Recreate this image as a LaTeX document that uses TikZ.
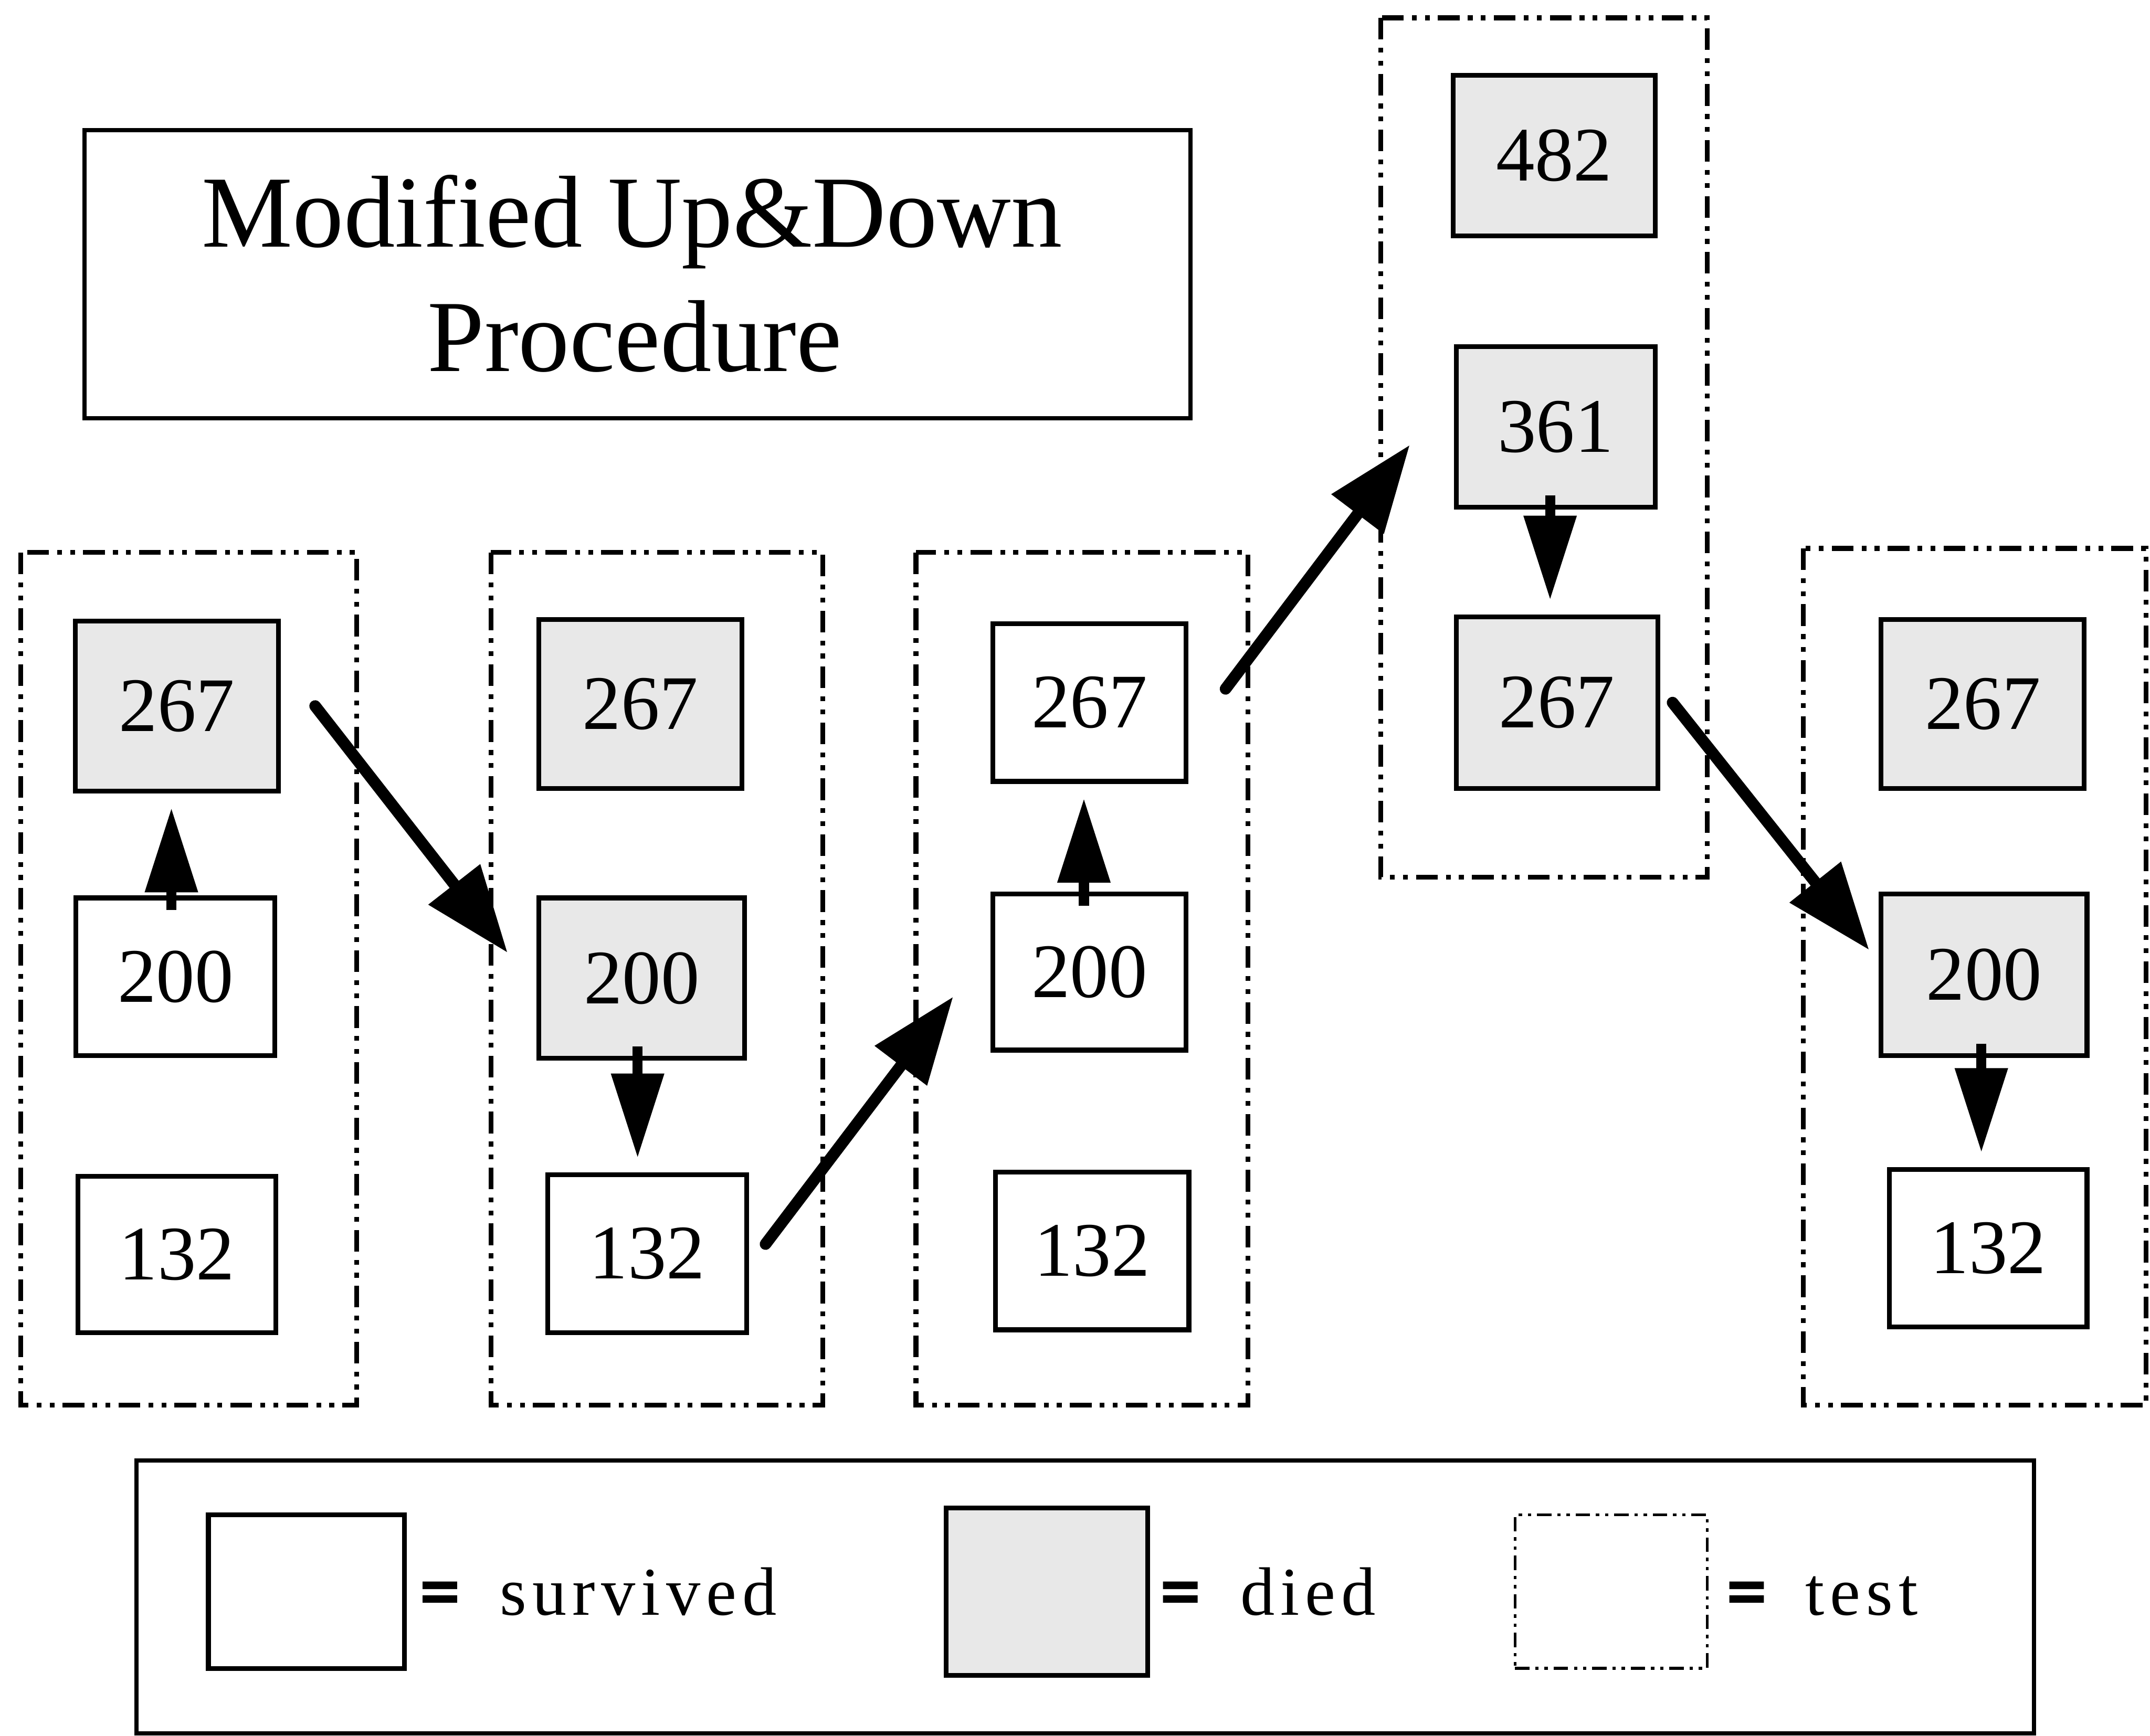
\documentclass[tikz,border=0pt]{standalone}
\usepackage{fontspec}
\setmainfont{Liberation Serif}
\newfontfamily\legendfont[LetterSpace=8.5]{Liberation Serif}
\newfontfamily\eqfont[FakeBold=4]{Liberation Serif Bold}
\usetikzlibrary{arrows.meta,calc}

\tikzset{
  cell/.style={draw=black, line width=1pt, inner sep=0pt,
    font=\fontsize{16pt}{19pt}\selectfont},
  alive/.style={cell, fill=white},
  dead/.style={cell, fill=black!9},
  testbox/.style={draw=black, line width=1pt,
    dash pattern=on 4.5pt off 1.7pt on 1pt off 1.7pt on 1pt off 1.7pt},
  jump/.style={line width=2.4pt, line cap=round,
    -{Triangle[length=18pt,width=13pt]}},
  within/.style={line width=2.1pt, shorten >=3pt, shorten <=-3pt,
    -{Triangle[length=17.5pt,width=10.5pt]}},
  titletext/.style={font=\fontsize{21.2pt}{26pt}\selectfont, inner sep=0pt, anchor=base},
  eqsign/.style={font=\fontsize{14.2pt}{17pt}\eqfont, inner sep=0pt, anchor=base west},
  legtext/.style={font=\fontsize{14.2pt}{17pt}\legendfont, inner sep=0pt, anchor=base west},
}

\begin{document}
\begin{tikzpicture}[x=0.01cm, y=-0.01cm]
\useasboundingbox (0,0) rectangle (1568,1266);

% title
\node[draw, line width=0.9pt, minimum width=8.06cm, minimum height=2.10cm] (title) at (465,200) {};
\node[titletext] (t1) at (461,180) {Modified Up\&Down};
\node[titletext] (t2) at (463,271) {Procedure};

% test groups
\draw[testbox] (15,403) rectangle (260,1025);
\draw[testbox] (358,403) rectangle (600,1025);
\draw[testbox] (668,403) rectangle (910,1025);
\draw[testbox] (1007,13) rectangle (1245,640);
\draw[testbox] (1315,400) rectangle (1565,1025);

% group 1
\node[dead,  minimum width=1.48cm, minimum height=1.24cm] (a267) at (129,515) {267};
\node[alive, minimum width=1.45cm, minimum height=1.15cm] (a200) at (128,712.5) {200};
\node[alive, minimum width=1.44cm, minimum height=1.14cm] (a132) at (129,915) {132};

% group 2
\node[dead,  minimum width=1.48cm, minimum height=1.23cm] (b267) at (467,513.5) {267};
\node[dead,  minimum width=1.50cm, minimum height=1.17cm] (b200) at (468,713.5) {200};
\node[alive, minimum width=1.45cm, minimum height=1.15cm] (b132) at (472,914.5) {132};

% group 3
\node[alive, minimum width=1.41cm, minimum height=1.15cm] (c267) at (794.5,512.5) {267};
\node[alive, minimum width=1.41cm, minimum height=1.14cm] (c200) at (794.5,709) {200};
\node[alive, minimum width=1.41cm, minimum height=1.15cm] (c132) at (796.5,912.5) {132};

% group 4
\node[dead, minimum width=1.47cm, minimum height=1.17cm] (d482) at (1133.5,113.5) {482};
\node[dead, minimum width=1.45cm, minimum height=1.17cm] (d361) at (1134.5,311.5) {361};
\node[dead, minimum width=1.47cm, minimum height=1.25cm] (d267) at (1135.5,512.5) {267};

% group 5
\node[dead,  minimum width=1.48cm, minimum height=1.23cm] (e267) at (1446,513.5) {267};
\node[dead,  minimum width=1.50cm, minimum height=1.18cm] (e200) at (1447,711) {200};
\node[alive, minimum width=1.44cm, minimum height=1.15cm] (e132) at (1450,910.5) {132};

% moves inside a test
\draw[within] ($(a200.north)+(-3,0)$) -- ($(a200.north |- a267.south)+(-3,0)$);
\draw[within] ($(b200.south)+(-3,0)$) -- ($(b200.south |- b132.north)+(-3,0)$);
\draw[within] ($(c200.north)+(-4,0)$) -- ($(c200.north |- c267.south)+(-4,0)$);
\draw[within] ($(d361.south)+(-4,0)$) -- ($(d361.south |- d267.north)+(-4,0)$);
\draw[within] ($(e200.south)+(-2,0)$) -- ($(e200.south |- e132.north)+(-2,0)$);

% moves between tests
\draw[jump] ($(a267.east)+(25,0)$) -- ($(b200.west)+(-21,-18.5)$);
\draw[jump] ($(b132.east)+(12,-7)$) -- ($(c200.west)+(-27,18)$);
\draw[jump] ($(c267.east)+(27,-10)$) -- ($(d361.west)+(-32,13)$);
\draw[jump] ($(d267.east)+(9,0)$) -- ($(e200.west)+(-7,-18)$);

% legend
\node[draw, line width=0.9pt, minimum width=13.83cm, minimum height=1.99cm] (legend) at (791.5,1165) {};
\node[alive, minimum width=1.43cm, minimum height=1.12cm] (lsurv) at (223.5,1161) {};
\node[eqsign] (eq1) at (306,1178) {=};
\node[legtext] (lt1) at (364,1178) {survived};
\node[dead, minimum width=1.47cm, minimum height=1.22cm] (ldied) at (763.5,1161) {};
\node[eqsign] (eq2) at (846,1178) {=};
\node[legtext] (lt2) at (904,1178) {died};
\node[draw=black, line width=0.6pt,
  dash pattern=on 3pt off 1.2pt on 0.7pt off 1.2pt on 0.7pt off 1.2pt,
  minimum width=1.40cm, minimum height=1.12cm] (ltest) at (1175,1161) {};
\node[eqsign] (eq3) at (1259,1178) {=};
\node[legtext] (lt3) at (1316,1178) {test};
\end{tikzpicture}
\end{document}
